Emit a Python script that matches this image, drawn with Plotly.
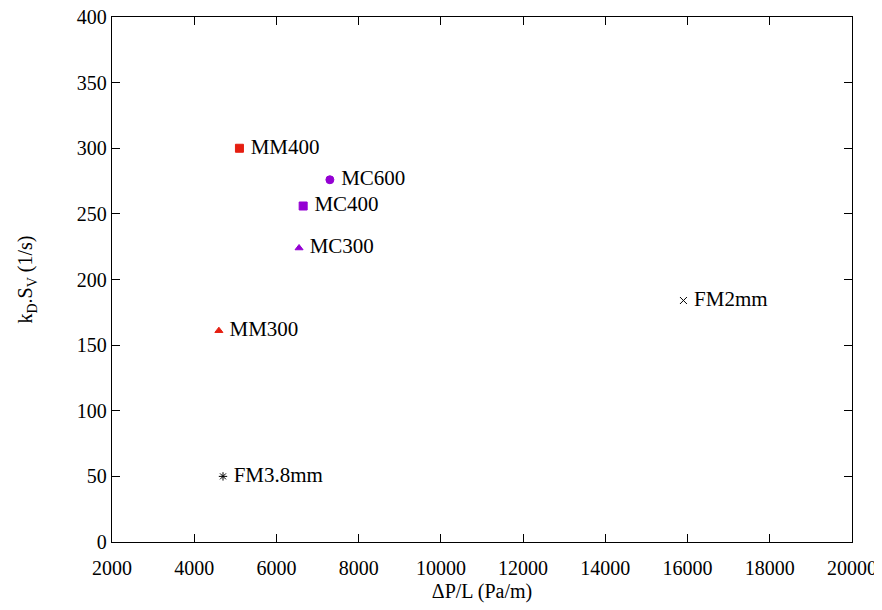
import plotly.graph_objects as go

names = ["MM400", "MC600", "MC400", "MC300", "MM300", "FM3.8mm", "FM2mm"]
dp_l = [5100, 7300, 6650, 6550, 4600, 4700, 15900]
kd_sv = [300, 276, 256, 224, 161, 50, 184]
symbols = ["square", "circle", "square", "triangle-up", "triangle-up", "asterisk-open", "x-thin-open"]
colors = ["#e51e10", "#9400d3", "#9400d3", "#9400d3", "#e51e10", "#000000", "#000000"]
sizes = [8, 8, 8, 7, 7, 7, 7]

x_ticks = list(range(2000, 20001, 2000))
x_tick_labels = [str(v) for v in x_ticks]
y_ticks = list(range(0, 401, 50))
y_tick_labels = [str(v) for v in y_ticks]

SERIF = "Liberation Serif, Times New Roman, DejaVu Serif, serif"

fig = go.Figure()
for n, x, y, s, c, sz in zip(names, dp_l, kd_sv, symbols, colors, sizes):
    fig.add_trace(go.Scatter(
        x=[x], y=[y], mode="markers+text", text=[" " + n],
        textposition="middle right",
        textfont=dict(family=SERIF, size=21, color="black"),
        marker=dict(symbol=s, color=c, size=sz, line=dict(color=c, width=1)),
        showlegend=False, cliponaxis=False,
    ))

axis_common = dict(
    showline=True, linecolor="black", linewidth=1.3, mirror="ticks",
    ticks="inside", ticklen=8, tickcolor="black", showgrid=False, zeroline=False,
    tickfont=dict(family=SERIF, size=20, color="black"), automargin=False,
    ticklabeloverflow="allow",
)
fig.update_xaxes(range=[2000, 20000], tickvals=x_ticks, ticktext=x_tick_labels,
                 ticklabelstandoff=8,
                 title=dict(text="ΔP/L (Pa/m)", font=dict(family=SERIF, size=20, color="black"), standoff=5),
                 **axis_common)
fig.update_yaxes(range=[0, 400], tickvals=y_ticks, ticktext=y_tick_labels,
                 title=dict(text="k<sub>D</sub>.S<sub>V</sub> (1/s)", font=dict(family=SERIF, size=20, color="black"), standoff=38),
                 **axis_common)
fig.update_layout(
    width=874, height=602, plot_bgcolor="white", paper_bgcolor="white",
    margin=dict(l=104, r=30, t=9, b=68),
)
fig.write_html("out.html")
